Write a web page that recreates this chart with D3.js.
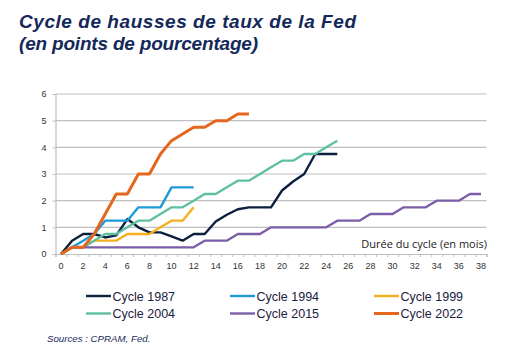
<!DOCTYPE html>
<html><head><meta charset="utf-8">
<script src="https://cdn.jsdelivr.net/npm/d3@7/dist/d3.min.js"></script>
<style>
html,body{margin:0;padding:0;background:#fff;}
svg{display:block;}
</style></head>
<body>
<svg id="c" width="519" height="361"></svg>
<script>
const months = d3.range(0, 39);
const xTickLabels = d3.range(0, 39, 2);
const yTicks = [0, 1, 2, 3, 4, 5, 6];

const cycle1987 = [0, 0.5, 0.75, 0.75, 0.62, 0.7, 1.31, 1.0, 0.81, 0.81, 0.66, 0.5, 0.75, 0.75, 1.22, 1.47, 1.68, 1.75, 1.75, 1.75, 2.38, 2.72, 3.0, 3.75, 3.75, 3.75];
const cycle1994 = [0, 0.25, 0.5, 0.75, 1.25, 1.25, 1.25, 1.75, 1.75, 1.75, 2.5, 2.5, 2.5];
const cycle1999 = [0, 0.25, 0.25, 0.5, 0.5, 0.5, 0.75, 0.75, 0.75, 1.0, 1.25, 1.25, 1.75];
const cycle2004 = [0, 0.25, 0.25, 0.5, 0.75, 0.75, 1.0, 1.25, 1.25, 1.5, 1.75, 1.75, 2.0, 2.25, 2.25, 2.5, 2.75, 2.75, 3.0, 3.25, 3.5, 3.5, 3.75, 3.75, 4.0, 4.25];
const cycle2015 = [0, 0.25, 0.25, 0.25, 0.25, 0.25, 0.25, 0.25, 0.25, 0.25, 0.25, 0.25, 0.25, 0.5, 0.5, 0.5, 0.75, 0.75, 0.75, 1.0, 1.0, 1.0, 1.0, 1.0, 1.0, 1.25, 1.25, 1.25, 1.5, 1.5, 1.5, 1.75, 1.75, 1.75, 2.0, 2.0, 2.0, 2.25, 2.25];
const cycle2022 = [0, 0.25, 0.25, 0.75, 1.5, 2.25, 2.25, 3.0, 3.0, 3.75, 4.25, 4.5, 4.75, 4.75, 5.0, 5.0, 5.25, 5.25];

const seriesNames = ["Cycle 1987", "Cycle 1994", "Cycle 1999", "Cycle 2004", "Cycle 2015", "Cycle 2022"];
const seriesValues = [cycle1987, cycle1994, cycle1999, cycle2004, cycle2015, cycle2022];
const colors = ["#0d1f3f", "#1e9bd7", "#f6b01f", "#5ec0a0", "#7c5da8", "#e5661d"];

const svg = d3.select("#c");
const navy = "#14285a";

// Title
svg.append("text").attr("x", 19).attr("y", 28)
  .attr("font-family", "Liberation Sans, Arial, sans-serif").attr("font-size", 19)
  .attr("font-weight", "bold").attr("font-style", "italic").attr("fill", navy)
  .attr("textLength", 337).attr("lengthAdjust", "spacing")
  .text("Cycle de hausses de taux de la Fed");
svg.append("text").attr("x", 19).attr("y", 50)
  .attr("font-family", "Liberation Sans, Arial, sans-serif").attr("font-size", 19)
  .attr("font-weight", "bold").attr("font-style", "italic").attr("fill", navy)
  .attr("textLength", 239).attr("lengthAdjust", "spacing")
  .text("(en points de pourcentage)");

const x = d3.scaleLinear().domain([-0.5, 38.5]).range([55.5, 486.5]);
const y = d3.scaleLinear().domain([0, 6]).range([254, 94]);

// gridlines
svg.append("g").selectAll("line").data(yTicks.filter(d => d > 0)).join("line")
  .attr("x1", x(-0.5)).attr("x2", x(38.5))
  .attr("y1", d => y(d)).attr("y2", d => y(d))
  .attr("stroke", "#bfbfbf").attr("stroke-width", 1.2);

// y axis
const yAxis = d3.axisLeft(y).tickValues(yTicks).tickSize(3).tickPadding(6).tickFormat(d3.format("d"));
const gy = svg.append("g").attr("transform", `translate(${x(-0.5)},0)`).call(yAxis);
gy.select(".domain").attr("stroke", "#bfbfbf").attr("stroke-width", 1.2);
gy.selectAll(".tick line").attr("stroke", "#bfbfbf");
gy.selectAll(".tick text").attr("font-family", "Liberation Sans, Arial, sans-serif").attr("font-size", 9).attr("fill", "#333");

// x axis
const xAxis = d3.axisBottom(x).tickValues(d3.range(-0.5, 39, 1)).tickSize(3).tickFormat("");
const gx = svg.append("g").attr("transform", `translate(0,${y(0)})`).call(xAxis);
gx.select(".domain").attr("stroke", "#bfbfbf").attr("stroke-width", 1.2);
gx.selectAll(".tick line").attr("stroke", "#bfbfbf");
svg.append("g").selectAll("text").data(xTickLabels).join("text")
  .attr("x", d => x(d)).attr("y", 269).attr("text-anchor", "middle")
  .attr("font-family", "Liberation Sans, Arial, sans-serif").attr("font-size", 9).attr("fill", "#333")
  .text(d => d);

// axis title
svg.append("text").attr("x", 487).attr("y", 248).attr("text-anchor", "end")
  .attr("font-family", "Open Sans, sans-serif").attr("font-size", 11).attr("fill", "#222")
  .text("Durée du cycle (en mois)");

// lines
const line = d3.line().x((d, i) => x(months[i])).y(d => y(d));
svg.append("g").selectAll("path").data(seriesValues).join("path")
  .attr("d", d => line(d)).attr("fill", "none")
  .attr("stroke", (d, i) => colors[i])
  .attr("stroke-width", (d, i) => i === 5 ? 3 : 2.4)
  .attr("stroke-linejoin", "round");

// legend
const legCols = [86, 230, 374];
const legRows = [296, 313.5];
const lg = svg.append("g").selectAll("g").data(seriesNames).join("g")
  .attr("transform", (d, i) => `translate(${legCols[i % 3]},${legRows[Math.floor(i / 3)]})`);
lg.append("line").attr("x1", 0).attr("x2", 25).attr("y1", 0).attr("y2", 0)
  .attr("stroke", (d, i) => colors[i]).attr("stroke-width", (d, i) => i === 5 ? 3 : 2.4);
lg.append("text").attr("x", 26.5).attr("y", 4.5)
  .attr("font-family", "Liberation Sans, Arial, sans-serif").attr("font-size", 12.5).attr("fill", "#1a2040")
  .text(d => d);

// source
svg.append("text").attr("x", 47).attr("y", 342)
  .attr("font-family", "Liberation Sans, Arial, sans-serif").attr("font-size", 9.7)
  .attr("font-style", "italic").attr("fill", "#1a2a5a")
  .text("Sources : CPRAM, Fed.");
</script>
</body></html>
